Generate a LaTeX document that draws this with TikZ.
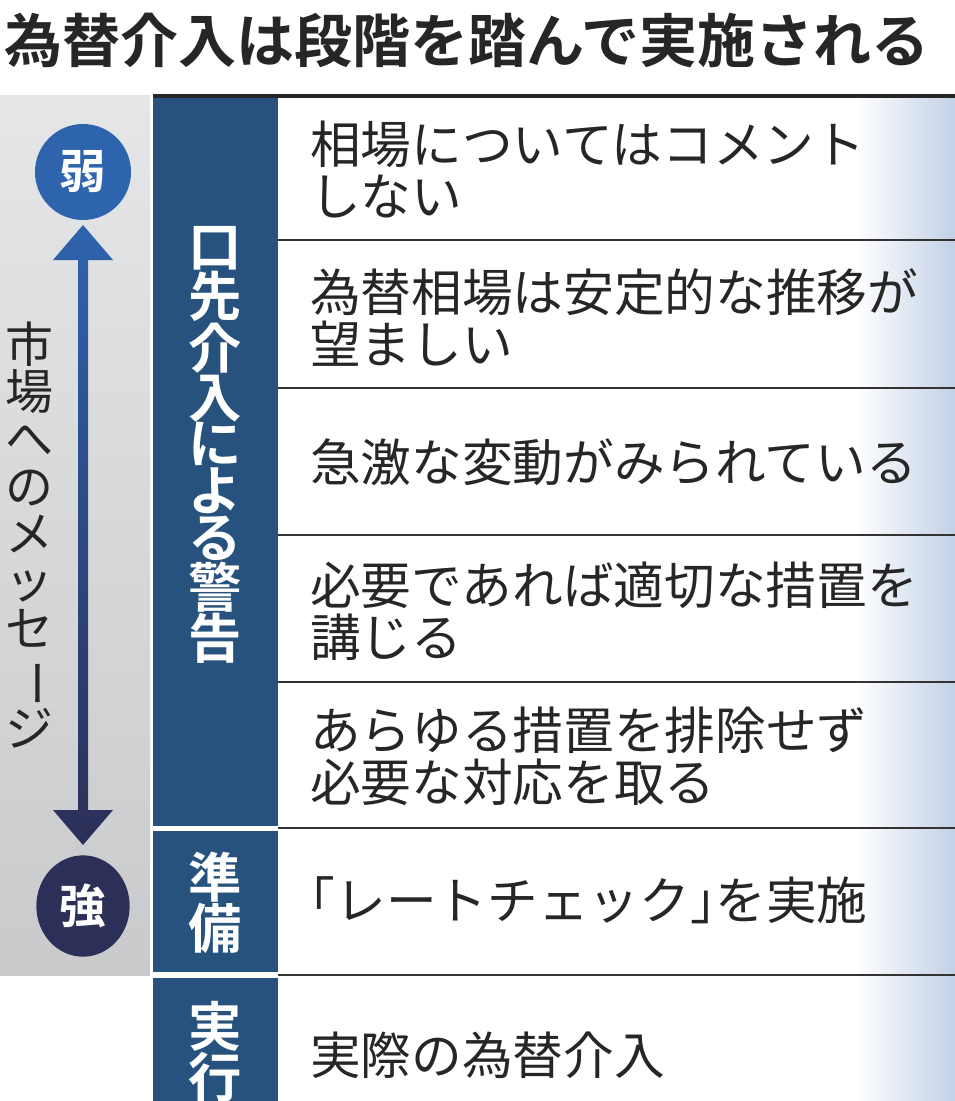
\documentclass[tikz,border=0pt]{standalone}
\usepackage{fontspec}
\usepackage{graphicx}
\usetikzlibrary{shapes.geometric}
\setmainfont{Noto Sans CJK JP}
\newfontfamily\jpb{Noto Sans CJK JP Bold}
\definecolor{colblue}{HTML}{27527D}
\definecolor{circblue}{HTML}{2E63AD}
\definecolor{circnavy}{HTML}{2C2F57}
\definecolor{lgrey}{HTML}{E5E6E8}
\definecolor{dgrey}{HTML}{C9CACC}
\definecolor{edgeblue}{HTML}{C3D1E6}
\definecolor{linec}{HTML}{333333}
\tikzset{
  body/.style={anchor=west,align=left,font=\fontsize{38}{39}\selectfont,text=black!85,inner sep=0pt},
  colhead/.style={align=center,font=\jpb\fontsize{40}{35}\selectfont,text=white,inner sep=0pt},
  circ/.style={circle,minimum size=72pt,inner sep=0pt,text=white,font=\jpb\fontsize{35}{35}\selectfont},
  sep/.style={draw=linec,line width=1.5pt}
}
\begin{document}
\begin{tikzpicture}[x=0.75pt,y=-0.75pt]
\useasboundingbox (0,0) rectangle (955,1101);
% title
\node[anchor=west,inner sep=0pt,font=\jpb\fontsize{43.5}{43.5}\selectfont,text=black!85] (title) at (4,40) {為替介入は段階を踏んで実施される};
% grey band
\shade[top color=lgrey,bottom color=dgrey] (0,95) rectangle (150,975);
% right gradient
\shade[left color=white,right color=edgeblue] (855,95) rectangle (955,1101);
% blue column segments
\fill[colblue] (153,95) rectangle (278,826);
\fill[colblue] (153,831) rectangle (278,972);
\fill[colblue] (153,978) rectangle (278,1101);
% lines
\draw[line width=3pt,draw=black!85] (153,96) -- (955,96);
\foreach \yy in {240,388,535,682} \draw[sep] (278,\yy) -- (955,\yy);
\draw[line width=2pt,draw=linec] (278,828) -- (955,828);
\draw[line width=2pt,draw=linec] (278,975) -- (955,975);
% arrow
\shade[top color=circblue,bottom color=circnavy]
  (83,225) -- (113,260) -- (88,260) -- (88,810) -- (113,810) -- (83,845) -- (53,810) -- (78,810) -- (78,260) -- (53,260) -- cycle;
\node[circ,fill=circblue] (weak) at (83,172) {弱};
\node[ellipse,inner sep=0pt,text=white,font=\jpb\fontsize{35}{35}\selectfont,fill=circnavy,minimum width=70pt,minimum height=76pt] (strong) at (83,906) {強};
% left vertical text
\node[align=center,inner sep=0pt,font=\fontsize{36}{35.5}\selectfont,text=black!85] (msg) at (30,535)
  {市\\場\\へ\\の\\メ\\ッ\\セ\\\rotatebox[origin=c]{-90}{ー}\\ジ};
% column headings
\node[colhead] (h1) at (215,445) {口\\先\\介\\入\\に\\よ\\る\\警\\告};
\node[colhead] (h2) at (215,903) {準\\備};
\node[colhead] (h3) at (215,1052) {実\\行};
% body text
\node[body] (r1) at (310,170) {相場についてはコメント\\しない};
\node[body] (r2) at (310,318) {為替相場は安定的な推移が\\望ましい};
\node[body] (r3) at (310,462) {急激な変動がみられている};
\node[body] (r4) at (310,611) {必要であれば適切な措置を\\講じる};
\node[body] (r5) at (310,756) {あらゆる措置を排除せず\\必要な対応を取る};
\node[body] (r6) at (310,900) {\addfontfeature{RawFeature=+halt}「\addfontfeature{RawFeature=-halt}レートチェック\addfontfeature{RawFeature=+halt}」\addfontfeature{RawFeature=-halt}を実施};
\node[body] (r7) at (310,1055) {実際の為替介入};
\end{tikzpicture}
\end{document}
